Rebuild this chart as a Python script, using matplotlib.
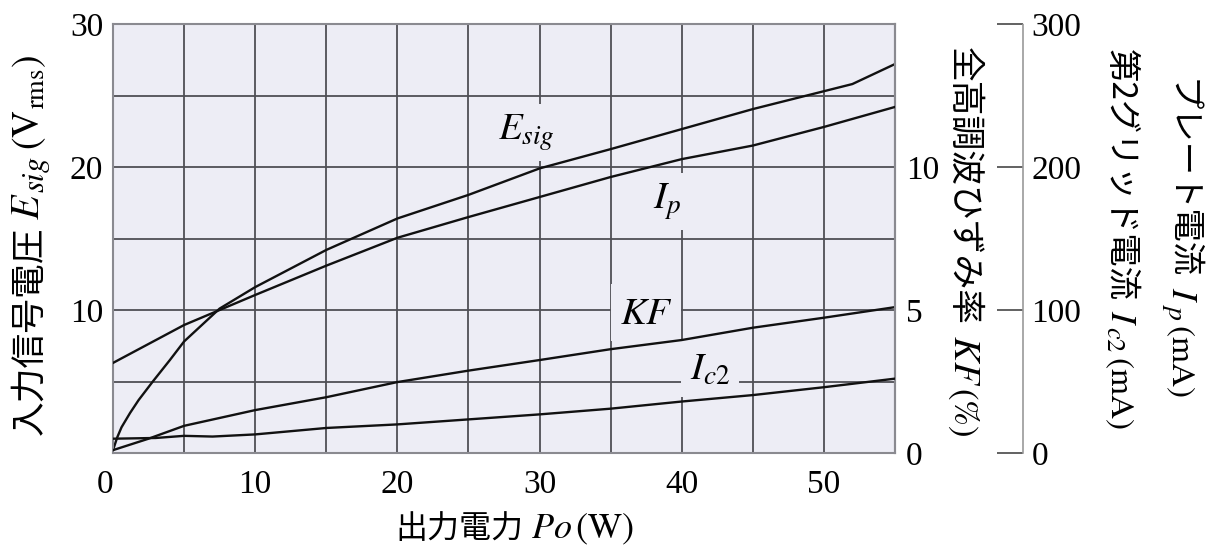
import matplotlib
matplotlib.use("Agg")
import matplotlib.pyplot as plt
from matplotlib.transforms import IdentityTransform

plt.rcParams['font.family'] = ['Noto Sans CJK JP', 'DejaVu Sans']
plt.rcParams['mathtext.fontset'] = 'stix'

# 出力電力 Po (W) に対する各特性
po_esig = [0, 0.3, 0.6, 1.2, 1.8, 2.8, 4, 5, 7.5, 10, 15, 20, 25, 30, 35, 40, 45,
           50, 52, 55]
esig = [0.2, 1.1, 1.8, 2.8, 3.7, 5.0, 6.5, 7.8, 10.1, 11.6, 14.2, 16.4, 18.05,
        19.9, 21.25, 22.65, 24.05, 25.3, 25.8, 27.2]

po_ip = [0, 5, 10, 15, 20, 25, 30, 35, 40, 45, 50, 55]
ip_ma = [63, 89.5, 110.5, 131, 150.5, 165, 179, 193, 205.5, 215, 228, 242]

po_kf = [0, 2.5, 5, 10, 15, 20, 25, 30, 35, 40, 45, 50, 55]
kf_pct = [0.1, 0.5, 0.95, 1.5, 1.95, 2.48, 2.88, 3.25, 3.63, 3.95, 4.38, 4.73, 5.1]

po_ic2 = [0, 3, 5, 7, 10, 15, 20, 25, 30, 35, 40, 45, 50, 55]
ic2_ma = [10, 10.5, 12, 11.5, 13, 17.5, 20, 23.5, 27, 31, 36, 40.5, 46, 52]

x_ticks = [0, 10, 20, 30, 40, 50]
esig_ticks = [10, 20, 30]
kf_ticks = [0, 5, 10]
ma_ticks = [0, 100, 200, 300]

bg = '#ededf5'
grid_c = '#4f4f55'
serif = 'Liberation Serif'

fig = plt.figure(figsize=(12.09, 5.48), dpi=100)
ax = fig.add_axes([113 / 1209, 95 / 548, 782 / 1209, 429 / 548])
ax.set_facecolor(bg)
ax.set_xlim(0, 55)
ax.set_ylim(0, 30)
ax.set_xticks(range(0, 56, 5))
ax.set_yticks(range(0, 31, 5))
ax.grid(True, color=grid_c, lw=1.3)
ax.set_axisbelow(True)
for s in ax.spines.values():
    s.set_color('#8a8a90')
    s.set_linewidth(1.5)

# 目盛ラベルは10刻みだけ
ax.set_xticklabels([str(v) if v in x_ticks else '' for v in range(0, 56, 5)],
                   fontfamily=serif, fontsize=24)
ax.set_yticklabels([str(v) if v in esig_ticks else '' for v in range(0, 31, 5)],
                   fontfamily=serif, fontsize=24)
ax.tick_params(axis='x', length=0, pad=12)
ax.tick_params(axis='y', length=0, pad=7)
ax.get_xticklabels()[0].set_ha('right')

ax.plot(po_esig, esig, color='#111', lw=1.7)

# 全高調波ひずみ率の軸
ax2 = ax.twinx()
ax2.set_ylim(0, 15)
ax2.set_yticks(kf_ticks)
ax2.set_yticklabels([str(v) for v in kf_ticks], fontfamily=serif, fontsize=24)
ax2.tick_params(axis='y', length=0, pad=8)
for k in ['top', 'bottom', 'left']:
    ax2.spines[k].set_visible(False)
ax2.spines['right'].set_color('#8a8a90')
ax2.spines['right'].set_linewidth(1.5)
ax2.plot(po_kf, kf_pct, color='#111', lw=1.7)

# 電流 (mA) の軸は外側に
ax3 = ax.twinx()
ax3.set_ylim(0, 300)
ax3.spines['right'].set_position(('axes', 1.1637))
for k in ['top', 'bottom', 'left']:
    ax3.spines[k].set_visible(False)
ax3.spines['right'].set_color('#9a9a9a')
ax3.spines['right'].set_linewidth(1.2)
ax3.spines['right'].set_linestyle((0, (1, 1)))
ax3.set_yticks(ma_ticks)
ax3.set_yticklabels([str(v) for v in ma_ticks], fontfamily=serif, fontsize=24)
ax3.tick_params(axis='y', direction='in', length=19, width=1.3, color='#555', pad=6)
ax3.plot(po_ip, ip_ma, color='#111', lw=1.7)
ax3.plot(po_ic2, ic2_ma, color='#111', lw=1.7)

# 曲線の名前（背景色で格子を隠す）
box = dict(boxstyle='square,pad=0.22', facecolor=bg, edgecolor='none')
lab = dict(fontsize=28, ha='center', va='center', bbox=box, zorder=1.5)
ax.text(29.1, 22.4, r'$E_{sig}$', **lab)
ax.text(39.0, 17.6, r'$I_p$', **lab)
ax.text(37.5, 9.8, r'$KF$', **lab)
ax.text(42.0, 5.9, r'$I_{c2}$', **lab)


def stack_label(pieces, base, pos, rot, centered=True):
    """文字列の断片を大きさを変えながら一列に並べる（座標はピクセル）"""
    r = fig.canvas.get_renderer()
    items = []
    for s, size, shift, gap in pieces:
        t = fig.text(0, 0, s, fontsize=size, rotation=rot, rotation_mode='anchor',
                     ha='left', va='baseline', transform=IdentityTransform())
        bb = t.get_window_extent(r)
        length = bb.width if rot == 0 else bb.height
        items.append((t, length, shift, gap))
    total = sum(length + gap for _, length, _, gap in items)
    if rot == -90:
        cur = pos + total / 2 if centered else pos
    else:
        cur = pos - total / 2 if centered else pos
    for t, length, shift, gap in items:
        if rot == 0:
            t.set_position((cur + gap, base - shift))
            cur += length + gap
        elif rot == 90:
            t.set_position((base + shift, cur + gap))
            cur += length + gap
        else:
            t.set_position((base - shift, cur - gap))
            cur -= length + gap


stack_label([('出力電力', 23, 0, 0), (r'$Po$', 26, 0, 8),
             (r'$(\mathrm{W})$', 26, 0, 3)], base=10, pos=395, rot=0, centered=False)
stack_label([('入力信号電圧', 25, 0, 0), (r'$E$', 29, 0, 6), (r'$sig$', 22, 5, 0),
             (r'$(\mathrm{V}$', 27, 0, 6), (r'$\mathrm{rms}$', 19, 5, 0),
             (r'$)$', 27, 0, 1)], base=39, pos=303, rot=90)
stack_label([('全高調波ひずみ率', 25, 0, 0), (r'$KF$', 27, 0, 10),
             (r'$(\%)$', 25, 0, 1)], base=954, pos=306, rot=-90)
stack_label([('第2グリッド電流', 24, 0, 0), (r'$I$', 26, 0, 8), (r'$c2$', 19, 4, 0),
             (r'$(\mathrm{mA})$', 24, 0, 4)], base=1111, pos=309, rot=-90)
stack_label([('プレート電流', 24, 0, 0), (r'$I$', 26, 0, 8), (r'$p$', 20, 4, 0),
             (r'$(\mathrm{mA})$', 24, 0, 4)], base=1172, pos=310, rot=-90)

fig.savefig('out.png', dpi=100, facecolor='white')
